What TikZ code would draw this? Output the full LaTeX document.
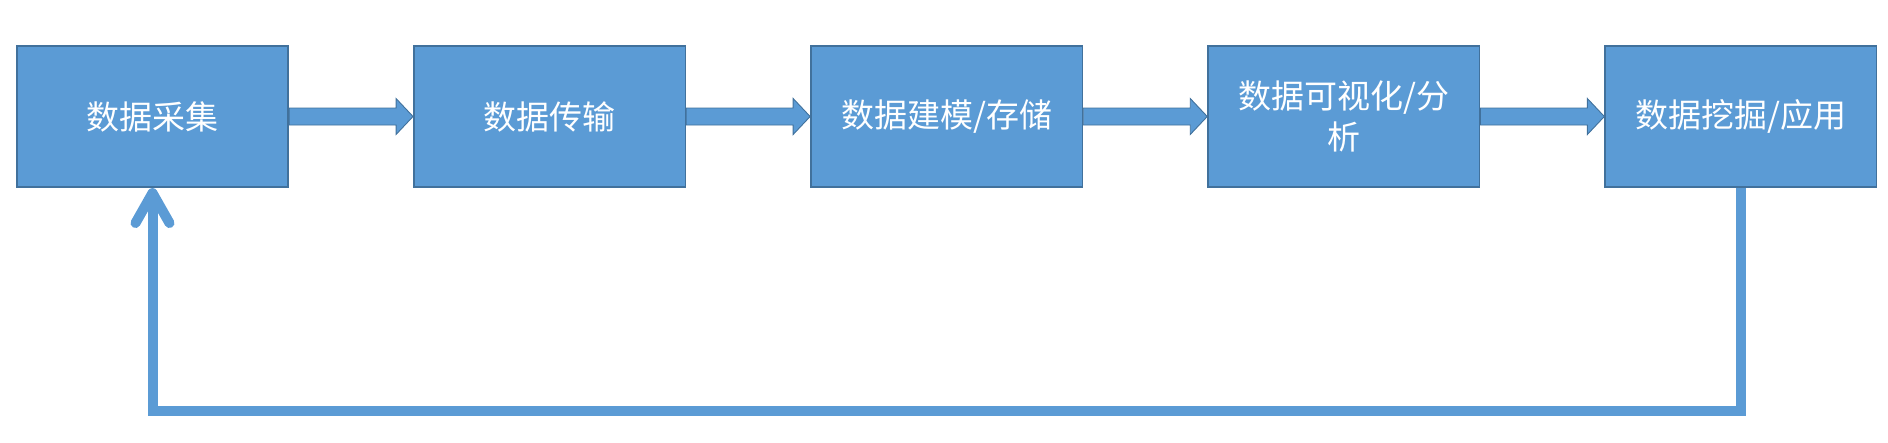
\documentclass[tikz,border=0pt]{standalone}
\usepackage{fontspec}
\newfontfamily\cjk{Noto Sans CJK SC}
\usepackage{tikz}
\usetikzlibrary{arrows.meta,positioning,calc}
\definecolor{boxblue}{HTML}{5B9BD5}
\definecolor{edgeblue}{HTML}{41719C}

\begin{document}
\begin{tikzpicture}[
  x=1pt, y=-1pt,
  node distance=124pt,
  box/.style={draw=edgeblue, line width=1.6pt, fill=boxblue, text=white,
              align=center, font=\cjk\fontsize{33}{41}\selectfont,
              minimum width=271.5pt, minimum height=141.5pt, inner sep=2pt},
  blockarr/.style={draw=edgeblue, line width=0.9pt, fill=boxblue,
              to path={let \p1=(\tikztostart), \p2=(\tikztotarget) in
                (\x1,\y1+8.5pt) -- (\x2-17pt,\y1+8.5pt) -- (\x2-17pt,\y1+18pt)
                -- (\x2,\y1) -- (\x2-17pt,\y1-18pt) -- (\x2-17pt,\y1-8.5pt)
                -- (\x1,\y1-8.5pt) -- cycle}},
  back/.style={draw=boxblue, line width=10pt,
              -{Straight Barb[length=30pt,width=34pt,round]}}]
\useasboundingbox (0,0) rectangle (1888,442);
\node[box] (cj) at (152.5,116.5) {数据采集};
\node[box, right=of cj] (cs) {数据传输};
\node[box, right=of cs] (jm) {数据建模/存储};
\node[box, right=of jm] (fx) {数据可视化/分\\析};
\node[box, right=of fx] (yy) {数据挖掘/应用};
\path[blockarr] (cj.east) to (cs.west);
\path[blockarr] (cs.east) to (jm.west);
\path[blockarr] (jm.east) to (fx.west);
\path[blockarr] (fx.east) to (yy.west);
\draw[back] (yy.south) -- ++(0,223) -| (cj.south);
\end{tikzpicture}
\end{document}
